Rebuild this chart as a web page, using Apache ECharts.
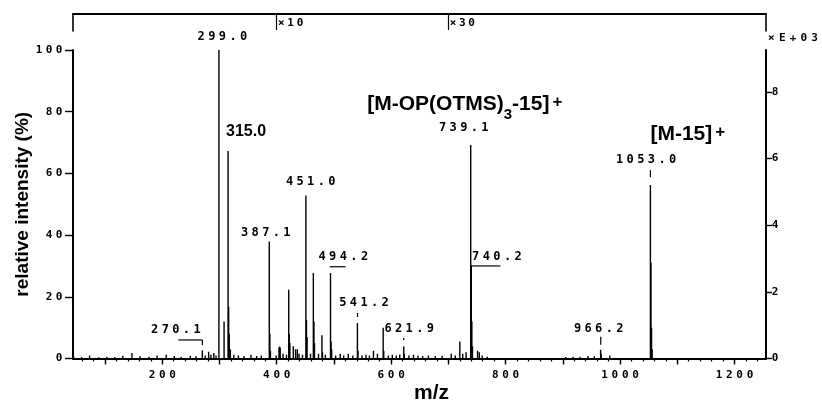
<!DOCTYPE html>
<html><head><meta charset="utf-8">
<script src="https://cdn.jsdelivr.net/npm/echarts@6/dist/echarts.min.js"></script>
<style>html,body{margin:0;padding:0;background:#fff}#c{width:822px;height:403px}</style>
</head><body><div id="c"></div>
<script>
// ---------------- DATA ----------------
const peakMz = [45,59,73,89,103,117,131,147,161,177,191,207,221,233,249,259,270,275,281,285,290,294,
  299,308,315,316,317,319,325,333,343,355,365,373,387,388,389,399,404,405,406,411,417,421,422,423,429,433,436,439,445,
  451,452,453,459,464,465,466,473,479,480,485,494,495,496,503,511,517,525,533,541,542,549,556,562,569,576,
  586,587,595,602,609,615,622,623,631,639,647,655,665,677,689,705,712,720,725,731,739,740,741,742,751,754,759,768,
  905,918,930,944,955,966,967,982,1053,1054,1055,1056];
const peakInt = [0.8,0.5,1.0,0.4,0.6,0.5,0.9,1.8,0.7,0.6,1.0,1.2,0.8,0.6,0.9,0.7,2.7,1.0,2.2,1.2,1.8,1.0,
  100,12,67.3,16.8,8,3,1.2,1.0,0.8,1.2,0.8,1.0,37.9,8,2.5,1.0,3.6,3.9,3.5,1.5,1.2,22.3,8,5,4,3,3,1.5,1.2,
  52.8,12.5,7,1.5,27.7,12,5,1.5,7.5,2,1.2,27.7,5.5,3,1.0,1.5,1.0,1.5,1.0,11.5,2.5,1.0,1.2,1.0,2.5,1.5,
  10,2.5,1.0,1.2,1.0,1.3,3.9,1.5,1.0,1.2,1.0,0.8,1.0,0.8,0.9,1.5,1.0,5.5,1.5,2.0,69.2,30,12,4,2.5,2.0,1.0,0.6,
  0.5,0.6,0.6,0.8,0.7,2.8,1.5,1.0,56.2,31,10,3];
const peakLabels = ['270.1','299.0','315.0','387.1','451.0','494.2','541.2','621.9','739.1','740.2','966.2','1053.0'];
const ionMain = ['[M-OP(OTMS)', '[M-15]'];
const ionSub  = ['3', ''];
const ionTail = ['-15]', ''];
const ionSup  = ['+', '+'];
const ionPeakMz = [739.1, 1053.0];
const xTickLabels = [200, 400, 600, 800, 1000, 1200];
const leftTickLabels = [0, 20, 40, 60, 80, 100];
const rightTickLabels = [0, 2, 4, 6, 8];
const rightAxisName = '×E+03';
const rightScaleMax = 9.26;          // right-axis value (×E+03) at 100 %
const magStarts = [400, 700];
const magLabels = ['×10', '×30'];
const xMin = 44, xMax = 1255;

// ---------------- helpers & styles ----------------
const INK = '#000';
const MONO = 'DejaVu Sans Mono';
const SANS = 'Liberation Sans';
function spaced(s, key) { return String(s).split('').map(c => '{' + key + '|' + c + '}').join(''); }
function monoRich(size, pitch) {
  return { fontFamily: MONO, fontWeight: 'bold', fontSize: size, width: pitch, align: 'center', color: INK, fill: INK };
}
const majorTicks = []; for (let v = 100; v <= 1200; v += 100) majorTicks.push(v);
const minorTicks = []; for (let v = 60; v <= 1240; v += 20) minorTicks.push(v);

const intensityAt = mz => { const i = peakMz.indexOf(Math.round(mz)); return i >= 0 ? peakInt[i] : 0; };

// label placement relative to the peak top (pixels); leaders as [x1,y1,x2,y2]
const peakLabelLayout = {
  '270.1':  { dx: -26.5, dy: -20, lead: [[0, -5, 0, -10.2], [0, -10.2, -24, -10.2]] },
  '299.0':  { dx: 3.5, dy: -12.7 },
  '315.0':  { dx: 18, dy: -19, sans: true },
  '387.1':  { dx: -3.6, dy: -8.5 },
  '451.0':  { dx: 4.8, dy: -14 },
  '494.2':  { dx: 12.7, dy: -15.7, lead: [[-0.9, -6.3, 15, -6.3]] },
  '541.2':  { dx: 6.5, dy: -20, lead: [[0, -10, 0, -6]] },
  '621.9':  { dx: 5.5, dy: -17.2, lead: [[0, -8.5, 0, -6.5]] },
  '739.1':  { dx: -7, dy: -16.7 },
  '740.2':  { dx: 25.5, dy: -9.2, lead: [[-0.5, 0, 29, 0]] },
  '966.2':  { dx: -2, dy: -20.5, lead: [[0, -13, 0, -5]] },
  '1053.0': { dx: -4.3, dy: -25, lead: [[0, -15, 0, -8]] }
};
const ionLayout = [ { dx: -103.5, dy: -51 }, { dx: 0, dy: -61.6 } ];
const ionRich = {
  b: { fontFamily: SANS, fontWeight: 'bold', fontSize: 21, lineHeight: 24, verticalAlign: 'top', fill: INK, color: INK },
  s: { fontFamily: SANS, fontWeight: 'bold', fontSize: 15, lineHeight: 14, padding: [13, 0, 0, 0], verticalAlign: 'top', fill: INK, color: INK },
  p: { fontFamily: SANS, fontWeight: 'bold', fontSize: 17, lineHeight: 12, padding: [0, 0, 0, 3], verticalAlign: 'top', fill: INK, color: INK }
};

const chart = echarts.init(document.getElementById('c'), null, { renderer: 'canvas' });

const axisLine = w => ({ show: true, onZero: false, lineStyle: { color: INK, width: w } });

const option = {
  animation: false,
  backgroundColor: '#fff',
  grid: [
    { left: 73, right: 56, top: 50, bottom: 44.5, containLabel: false, outerBoundsMode: 'none' },
    { left: 73, right: 56, top: 14, height: 17, containLabel: false, outerBoundsMode: 'none' }
  ],
  xAxis: [
    { // minor ticks + axis line
      gridIndex: 0, type: 'value', min: xMin, max: xMax, position: 'bottom',
      axisLine: axisLine(2),
      axisTick: { show: true, length: 3, customValues: minorTicks, lineStyle: { color: INK, width: 1.2 } },
      axisLabel: { show: false }, splitLine: { show: false }
    },
    { // major ticks + labels
      gridIndex: 0, type: 'value', min: xMin, max: xMax, position: 'bottom',
      axisLine: { show: false },
      axisTick: { show: true, length: 6, customValues: majorTicks, lineStyle: { color: INK, width: 1.4 } },
      axisLabel: { show: true, customValues: xTickLabels, margin: 11,
        formatter: v => spaced(v, 'm'), rich: { m: monoRich(11, 10.3) } },
      splitLine: { show: false },
      name: 'm/z', nameLocation: 'middle', nameGap: 35, nameMoveOverlap: false,
      nameTextStyle: { fontFamily: SANS, fontWeight: 'bold', fontSize: 21, color: INK, verticalAlign: 'middle', padding: [0, 0, 0, 24] }
    },
    { // top magnification bracket
      gridIndex: 1, type: 'value', min: xMin, max: xMax, position: 'top',
      axisLine: axisLine(2),
      axisTick: { show: true, inside: true, length: 16, customValues: magStarts, lineStyle: { color: INK, width: 1.2 } },
      axisLabel: { show: true, inside: true, customValues: magStarts, margin: 4, align: 'left', verticalAlign: 'top',
        formatter: v => spaced(magLabels[magStarts.indexOf(v)], 't'), rich: { t: monoRich(11, 9.3) } },
      splitLine: { show: false }
    }
  ],
  yAxis: [
    {
      gridIndex: 0, type: 'value', min: 0, max: 100, position: 'left',
      axisLine: axisLine(2),
      axisTick: { show: true, length: 8, customValues: leftTickLabels, lineStyle: { color: INK, width: 1.4 } },
      axisLabel: { show: true, customValues: leftTickLabels, margin: 9,
        formatter: v => spaced(v, 'm'), rich: { m: monoRich(11, 10) } },
      splitLine: { show: false },
      name: 'relative intensity (%)', nameLocation: 'middle', nameGap: 50, nameMoveOverlap: false,
      nameTextStyle: { fontFamily: SANS, fontWeight: 'bold', fontSize: 19, color: INK, verticalAlign: 'middle', align: 'center' }
    },
    {
      gridIndex: 0, type: 'value', min: 0, max: rightScaleMax, position: 'right',
      axisLine: axisLine(2),
      axisTick: { show: true, length: 6, customValues: rightTickLabels, lineStyle: { color: INK, width: 1.4 } },
      axisLabel: { show: true, customValues: rightTickLabels, margin: 4,
        formatter: v => spaced(v, 'm'), rich: { m: monoRich(11, 10) } },
      splitLine: { show: false },
      name: spaced(rightAxisName, 'n'), nameLocation: 'end', nameGap: 12, nameMoveOverlap: false,
      nameTextStyle: { align: 'left', verticalAlign: 'middle', rich: { n: monoRich(11, 10.8) } }
    },
    { gridIndex: 1, type: 'value', min: 0, max: 1, position: 'left', axisLine: axisLine(1.6),
      axisTick: { show: false }, axisLabel: { show: false }, splitLine: { show: false } },
    { gridIndex: 1, type: 'value', min: 0, max: 1, position: 'right', axisLine: axisLine(1.6),
      axisTick: { show: false }, axisLabel: { show: false }, splitLine: { show: false } }
  ],
  series: [
    {
      name: 'spectrum', type: 'custom', xAxisIndex: 0, yAxisIndex: 0, clip: true,
      data: peakMz.map((m, i) => [m, peakInt[i]]),
      renderItem: (params, api) => {
        const top = api.coord([api.value(0), api.value(1)]);
        const base = api.coord([api.value(0), 0]);
        return { type: 'line', shape: { x1: top[0], y1: top[1], x2: base[0], y2: base[1] },
          style: { stroke: INK, lineWidth: 1.4 } };
      }
    },
    {
      name: 'peak labels', type: 'custom', xAxisIndex: 0, yAxisIndex: 0, clip: false, silent: true,
      data: peakLabels.map(t => [parseFloat(t), intensityAt(parseFloat(t))]),
      renderItem: (params, api) => {
        const t = peakLabels[params.dataIndex];
        const lay = peakLabelLayout[t];
        const p = api.coord([api.value(0), api.value(1)]);
        const children = [];
        if (lay.sans) {
          children.push({ type: 'text', style: { x: p[0] + lay.dx, y: p[1] + lay.dy, text: t,
            fontFamily: SANS, fontWeight: 'bold', fontSize: 16, fill: INK, align: 'center', verticalAlign: 'middle' } });
        } else {
          children.push({ type: 'text', style: { x: p[0] + lay.dx, y: p[1] + lay.dy, text: spaced(t, 'm'),
            rich: { m: monoRich(12, 10.6) }, fill: INK, align: 'center', verticalAlign: 'middle' } });
        }
        (lay.lead || []).forEach(s => children.push({ type: 'line',
          shape: { x1: p[0] + s[0], y1: p[1] + s[1], x2: p[0] + s[2], y2: p[1] + s[3] },
          style: { stroke: INK, lineWidth: 1.2 } }));
        return { type: 'group', children };
      }
    },
    {
      name: 'ions', type: 'custom', xAxisIndex: 0, yAxisIndex: 0, clip: false, silent: true,
      data: ionPeakMz.map(m => [m, intensityAt(m)]),
      renderItem: (params, api) => {
        const i = params.dataIndex;
        const lay = ionLayout[i];
        const p = api.coord([api.value(0), api.value(1)]);
        let txt = '{b|' + ionMain[i] + '}';
        if (ionSub[i]) txt += '{s|' + ionSub[i] + '}';
        if (ionTail[i]) txt += '{b|' + ionTail[i] + '}';
        if (ionSup[i]) txt += '{p|' + ionSup[i] + '}';
        return { type: 'text', style: { x: p[0] + lay.dx, y: p[1] + lay.dy, text: txt, rich: ionRich,
          fill: INK, align: 'left', verticalAlign: 'top' } };
      }
    }
  ]
};
chart.setOption(option);
</script>
</body></html>
